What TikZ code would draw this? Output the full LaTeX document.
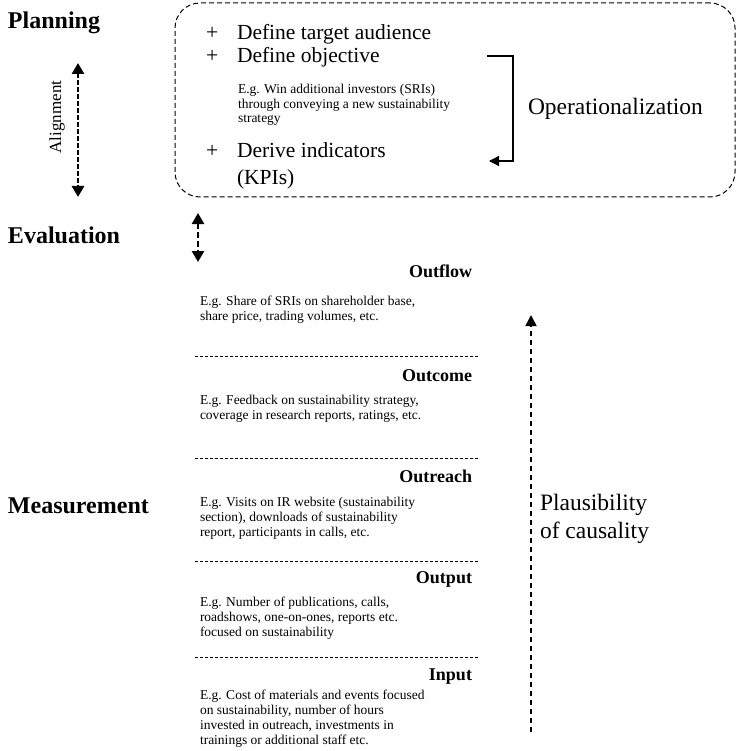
\documentclass[tikz,border=0pt]{standalone}
\usepackage{fontspec}
\setmainfont{Liberation Serif}
\usetikzlibrary{arrows.meta}
\tikzset{
  txt/.style={inner sep=0pt, outer sep=0pt},
  mainhead/.style={txt, anchor=base west, font=\fontsize{24}{28}\selectfont\bfseries},
  itemtext/.style={txt, anchor=base west, font=\fontsize{21.5}{27}\selectfont},
  smalltext/.style={txt, anchor=base west, font=\fontsize{13.5}{14.5}\selectfont},
  sechead/.style={txt, anchor=base east, font=\fontsize{18}{20}\selectfont\bfseries},
  bodytext/.style={txt, anchor=base west, font=\fontsize{13.5}{15.3}\selectfont},
  sideText/.style={txt, anchor=base west, font=\fontsize{23.5}{28.5}\selectfont},
  planbox/.style={draw, line width=1pt, dash pattern=on 5pt off 3pt, rounded corners=25pt},
  sepline/.style={line width=0.7pt, dash pattern=on 3pt off 2pt},
  bigarrow/.style={line width=2.8pt, dash pattern=on 4.5pt off 2.5pt, {Triangle[width=12pt,length=11pt]}-{Triangle[width=12pt,length=11pt]}},
  evalarrow/.style={line width=2.5pt, dash pattern=on 6pt off 3pt, {Triangle[width=12pt,length=11pt]}-{Triangle[width=12pt,length=11pt]}},
  plausarrow/.style={line width=1.6pt, dash pattern=on 5pt off 4pt, -{Triangle[width=11pt,length=11pt]}},
  bracketline/.style={line width=1.2pt, -{Triangle[width=10pt,length=10pt]}}
}
\begin{document}
\begin{tikzpicture}[x=1pt,y=-1pt]
\useasboundingbox[fill=white] (0,0) rectangle (737,751);

% planning box
\node[planbox, minimum width=560pt, minimum height=194pt] (box) at (455,100) {};

% left headings
\node[mainhead] (planning) at (8,29) {Planning};
\node[mainhead] (evaluation) at (8,243) {Evaluation};
\node[mainhead] (measurement) at (8,513) {Measurement};

% alignment arrow
\coordinate (al1) at (78,63);
\coordinate (al2) at (78,197);
\draw[bigarrow] (al1) -- (al2);
\node[txt, rotate=90, font=\fontsize{17}{20}\selectfont] (alignlabel) at (57,117) {Alignment};

% items in box
\node[itemtext] (plus1) at (206,40) {+};
\node[itemtext] (def1) at (237,40) {Define target audience};
\node[itemtext] (plus2) at (206,63) {+};
\node[itemtext] (def2) at (237,63) {Define objective};
\node[smalltext] (eg) at (238,94) {\parbox[t]{260pt}{E.g. Win additional investors (SRIs)\\through conveying a new sustainability\\strategy}};
\node[itemtext] (plus3) at (206,158) {+};
\node[itemtext] (derive) at (237,158) {\parbox[t]{200pt}{Derive indicators\\(KPIs)}};

% operationalization bracket
\coordinate (b1) at (487,56);
\coordinate (b2) at (513,56);
\coordinate (b3) at (513,161);
\coordinate (b4) at (489,161);
\draw[bracketline] (b1) -- (b2) -- (b3) -- (b4);
\node[sideText] (oper) at (528,115) {Operationalization};

% evaluation arrow
\coordinate (ev1) at (198,213);
\coordinate (ev2) at (198,262);
\draw[evalarrow] (ev1) -- (ev2);

% sections
\node[sechead] (outflow) at (472,277) {Outflow};
\node[bodytext] (outflowtxt) at (200,305) {\parbox[t]{270pt}{E.g. Share of SRIs on shareholder base,\\share price, trading volumes, etc.}};
\coordinate (s1a) at (195,356); \coordinate (s1b) at (478,356);
\draw[sepline] (s1a) -- (s1b);

\node[sechead] (outcome) at (472,381) {Outcome};
\node[bodytext] (outcometxt) at (200,404) {\parbox[t]{270pt}{E.g. Feedback on sustainability strategy,\\coverage in research reports, ratings, etc.}};
\coordinate (s2a) at (195,458); \coordinate (s2b) at (478,458);
\draw[sepline] (s2a) -- (s2b);

\node[sechead] (outreach) at (472,482) {Outreach};
\node[bodytext] (outreachtxt) at (200,506) {\parbox[t]{270pt}{E.g. Visits on IR website (sustainability\\section), downloads of sustainability\\report, participants in calls, etc.}};
\coordinate (s3a) at (195,561); \coordinate (s3b) at (478,561);
\draw[sepline] (s3a) -- (s3b);

\node[sechead] (output) at (472,583) {Output};
\node[bodytext] (outputtxt) at (200,606) {\parbox[t]{270pt}{E.g. Number of publications, calls,\\roadshows, one-on-ones, reports etc.\\focused on sustainability}};
\coordinate (s4a) at (195,657); \coordinate (s4b) at (478,657);
\draw[sepline] (s4a) -- (s4b);

\node[sechead] (input) at (472,680) {Input};
\node[bodytext] (inputtxt) at (200,699) {\parbox[t]{270pt}{E.g. Cost of materials and events focused\\on sustainability, number of hours\\invested in outreach, investments in\\trainings or additional staff etc.}};

% plausibility arrow
\coordinate (pl1) at (531,732);
\coordinate (pl2) at (531,315);
\draw[plausarrow] (pl1) -- (pl2);
\node[sideText] (plaus) at (540,510) {\parbox[t]{150pt}{Plausibility\\of causality}};
\end{tikzpicture}
\end{document}
